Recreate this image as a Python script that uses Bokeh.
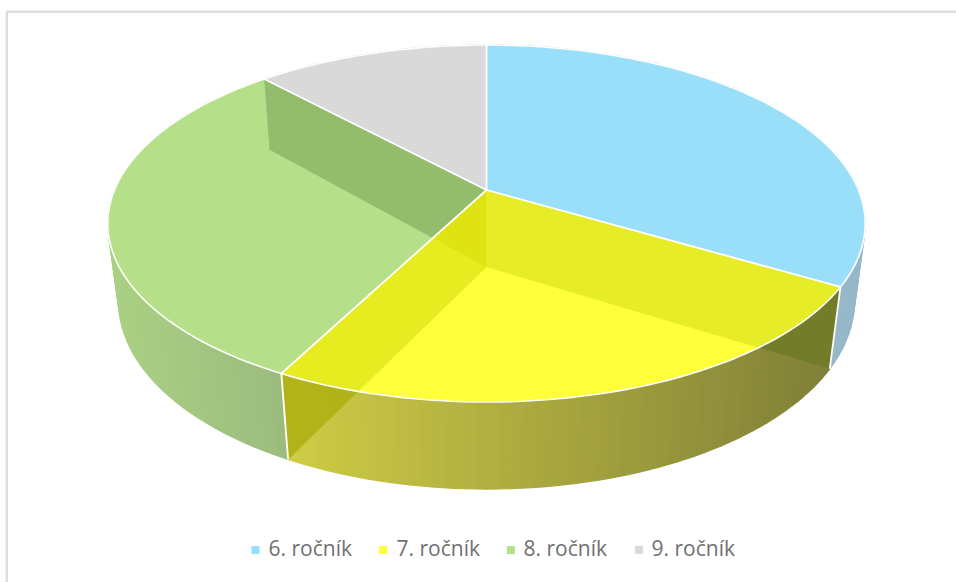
from math import sin, cos, atan2, pi
from bokeh.plotting import figure
from bokeh.models import Range1d
from bokeh.embed import file_html
from bokeh.resources import INLINE
from bokeh.core.properties import value

categories = ["6. ročník", "7. ročník", "8. ročník", "9. ročník"]
shares = [33.5, 24.1, 30.5, 11.9]
top_colors = ["#99DFF9", "#FFFF3B", "#B5DF89", "#D9D9D9"]
side_left = ["#96B8C8", "#CFCC45", "#AAD083", "#BBBBBB"]
side_right = ["#96B8C8", "#7F7F38", "#9BBB7E", "#BBBBBB"]
legend_text_x = [268, 396, 523, 651]
legend_mark_x = [255, 382.5, 510.5, 638.5]

W, H = 956, 582
CX, CY = 486.0, 189.5
A, B, K, M, C = 372.0, 172.2, 0.1877, 0.0284, 79.2


def proj(r, theta, z=0.0):
    u, v = r * sin(theta), -r * cos(theta)
    w = 1 - K * v + M * z
    return CX + A * u / w, CY + (B * v + C * z) / w


def unproj(q):
    dy = q[1] - CY
    v = dy / (B + K * dy)
    u = (q[0] - CX) * (1 - K * v) / A
    return u, v


def arc(a, b, z=0.0, n=60):
    return [proj(1, a + (b - a) * i / n, z) for i in range(n + 1)]


def mix(c1, c2, t):
    p1 = [int(c1[i:i + 2], 16) for i in (1, 3, 5)]
    p2 = [int(c2[i:i + 2], 16) for i in (1, 3, 5)]
    return "#%02x%02x%02x" % tuple(round(a + (b - a) * t) for a, b in zip(p1, p2))


def clip(poly, a, b, keep_left=True):
    """Clip polygon by the line a-b in screen space."""
    def side(q):
        s = (b[0] - a[0]) * (q[1] - a[1]) - (b[1] - a[1]) * (q[0] - a[0])
        return s if keep_left else -s
    out = []
    for i, cur in enumerate(poly):
        nxt = poly[(i + 1) % len(poly)]
        sc, sn = side(cur), side(nxt)
        if sc >= 0:
            out.append(cur)
        if sc * sn < 0:
            t = sc / (sc - sn)
            out.append((cur[0] + (nxt[0] - cur[0]) * t, cur[1] + (nxt[1] - cur[1]) * t))
    return out


edges = [0.0]
for s in shares:
    edges.append(edges[-1] + s / sum(shares) * 2 * pi)

p = figure(width=W, height=H, x_range=Range1d(0, W), y_range=Range1d(H, 0),
           toolbar_location=None, output_backend="svg", min_border=0,
           outline_line_color=None, background_fill_color="white")
p.axis.visible = False
p.grid.visible = False

# chart frame
p.line([6.3, 6.3, W], [H, 11.3, 11.3], line_color="#DEDEDE", line_width=2.4)


def poly(points, **kw):
    p.patch([q[0] for q in points], [q[1] for q in points], **kw)


def wall(theta):
    return [proj(0, 0), proj(1, theta), proj(1, theta, 1), proj(0, 0, 1)]


def wall_parts(theta):
    """Split an inner wall at the top face's rim: (part over the top, part over the side)."""
    c, r = proj(0, 0, 1), proj(1, theta, 1)
    lo, hi = 0.0, 1.0
    for _ in range(30):
        t = (lo + hi) / 2
        q = (c[0] + (r[0] - c[0]) * t, c[1] + (r[1] - c[1]) * t)
        u, v = unproj(q)
        if u * u + v * v < 1:
            lo = t
        else:
            hi = t
    u, v = unproj(q)
    th = atan2(u, -v) % (2 * pi)
    curve = arc(theta, th, 0, 30)
    return [proj(0, 0)] + curve + [q, c], curve + [q, r]


# outer side walls as short gradient strips, lit from the left
for i in (3, 0, 2, 1):
    a, b = edges[i], edges[i + 1]
    n = 60
    top, bot = arc(a, b, 0, n), arc(a, b, 1, n)
    xs = [q[0] for q in top + bot]
    lo, hi = min(xs), max(xs)
    for j in range(n):
        quad = [top[j], top[j + 1], bot[j + 1], bot[j]]
        mid = (top[j][0] + top[j + 1][0]) / 2
        col = mix(side_left[i], side_right[i], (mid - lo) / (hi - lo))
        poly(quad, fill_color=col, line_color=col, line_width=1.2)

# top faces
for i in range(4):
    pts = [proj(0, 0)] + arc(edges[i], edges[i + 1])
    poly(pts, fill_color=top_colors[i], line_color=None)

# inner walls seen through the translucent slices
top_a, side_a = wall_parts(edges[1])
top_b, side_b = wall_parts(edges[2])
poly(top_a, fill_color="#E6EC26", line_color=None)
poly(top_b, fill_color="#E6EC20", line_color=None)
poly(side_a, fill_color="#717C28", fill_alpha=0.9, line_color=None)
poly(side_b, fill_color="#AEB014", fill_alpha=0.9, line_color=None)
boundary = (proj(0, 0), proj(1, edges[2]))
back = wall(edges[3])
poly(clip(back, *boundary, keep_left=True), fill_color="#0F3700", fill_alpha=0.2, line_color=None)
poly(clip(back, *boundary, keep_left=False), fill_color="#DFE312", line_color=None)

# white seams
for e in edges[:4]:
    c, r = proj(0, 0), proj(1, e)
    p.line([c[0], r[0]], [c[1], r[1]], line_color="white", line_width=1.8)
for e in (edges[1], edges[2]):
    r, r2 = proj(1, e), proj(1, e, 1)
    p.line([r[0], r2[0]], [r[1], r2[1]], line_color="white", line_width=1.8)
rim = arc(edges[0], edges[4], 0, 240)
p.line([q[0] for q in rim], [q[1] for q in rim], line_color="white", line_width=1.6)

# legend
for i, cat in enumerate(categories):
    p.rect([legend_mark_x[i]], [549.5], width=8, height=8, fill_color=top_colors[i], line_color=None)
    p.text([legend_text_x[i]], [547], text=[cat], text_font=value("Open Sans"), text_font_size="21px",
           text_color="#707070", text_baseline="alphabetic", text_align="left")

open("out.html", "w").write(file_html(p, INLINE))
